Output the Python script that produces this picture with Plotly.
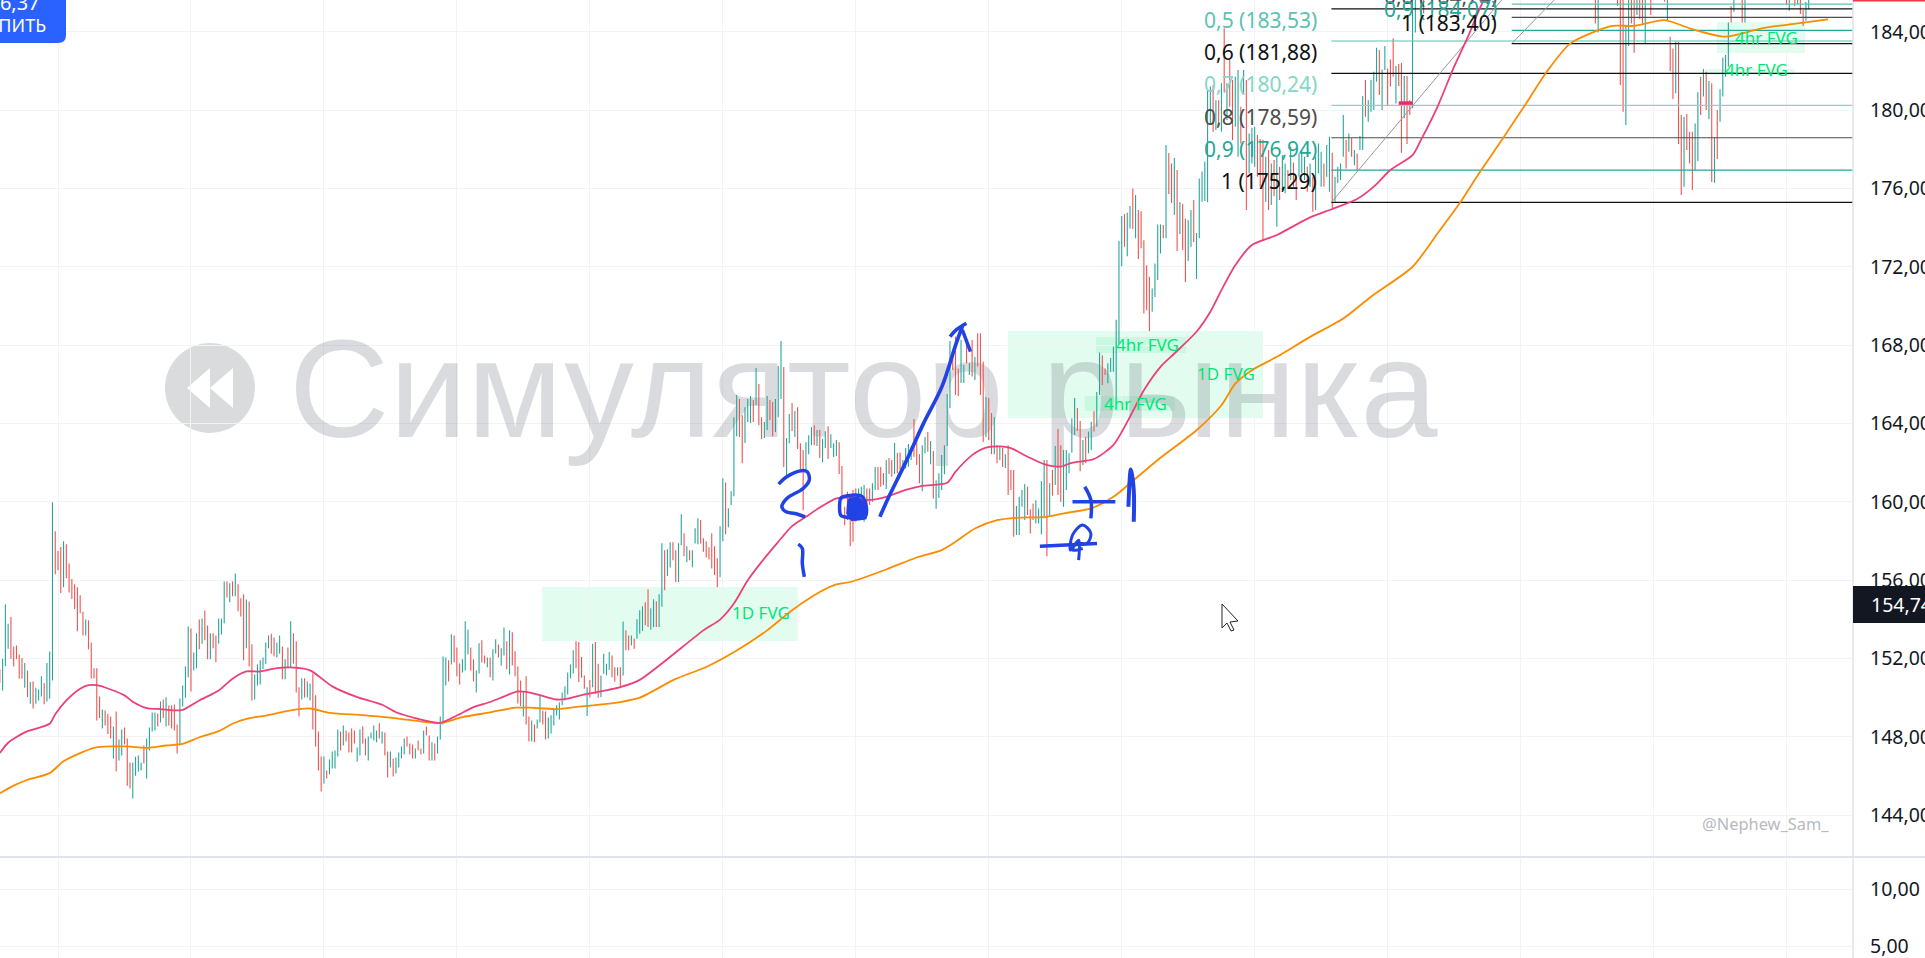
import plotly.graph_objects as go

W, H = 1925, 958
PLOT_R = 1853
PANE_B = 857

N = None
bar_dir = (
    "RGGGRRRRRG" "RGRGGGRGGG" "RRRGRRRRRR" "RGRRRRRGRR" "RGRGGRRRGG"
    "GGRGGGGRGR" "GRRRRGGGGR" "GGRGRRGRRG" "GGRGRGRRRG" "RRGGGGGGRR"
    "GGRGRGRRRG" "RGGRRRRGRG" "GGGRGRRRRG" "GRRGGGGRGR" "RGRGGGGRRR"
    "GRRGRRGRGG" "GGRGRRRGGG" "RRGGRRGRGG" "RGGRGRRRRG" "RRGRGGRRGG"
    "GGGGGGGGRR" "RRGRGRRGGG" "GRRGRGRRGR" "GGGRRGGRGG" "RGGRRGGRGR"
    "GGGRRRRRRR" "GGRGGGGRRG" "GGRGRRGGRR" "GGGRGGRGRR" "RGGGRGRGGR"
    "GGGRRRRRRR" "GGGRRGGRRR" "GRRGRRGGGG" "RRRGGRGRGG" "GGGGRRRGGR"
    "GRGRRRGRRG" "RGRGRRRGGG" "GRRRGGGGRG" "RGRRGGGGGR" "RGRGGRGGRR"
    "GGGGGGRGGR" "GRRRRRGGGG" "RGRRGRGRRG" "GRGGGGGGRG" "RGRGRRGGRG"
    "RGGGRRRGRG" "RGRGGRGRRG" "GGRGRGGGRG" "GRGGGGRGRG" "RGGRGGGGRG"
    "GRRRGRRGRR" "GG.GR"
    + "." * 61
    + "RG" + "." * 6 + "RRRGGRRGRRG.R" + "...." + "RG"
    + "RRGRRGRRRGGRGRGRGRGGGGRGGG" [:24]
    + ".." + "RG" + "." * 14 + "RG.RGRRGG"
)

bar_high = [
    151.44,151.98,154.76,153.77,154.11,152.61,152.66,152.2,152.0,151.76,
    151.38,150.79,150.82,150.5,150.41,151.08,150.74,151.76,152.35,159.97,
    158.49,157.48,157.69,157.98,157.83,156.85,156.05,155.78,155.63,155.22,
    154.38,153.99,153.94,152.81,151.5,151.5,150.05,149.39,149.34,149.17,
    149.03,148.52,149.29,147.85,148.37,148.47,147.91,146.68,146.68,146.98,
    147.04,146.68,147.55,147.91,148.47,149.24,149.24,149.19,149.8,149.9,
    150.02,149.59,149.59,149.64,148.62,149.95,150.62,151.59,153.63,153.53,
    152.3,153.28,153.99,154.04,154.45,153.68,153.28,153.28,153.17,154.04,
    154.04,155.93,155.93,155.83,155.93,156.34,155.78,155.07,155.27,155.01,
    154.91,152.72,151.18,151.69,151.9,152.05,152.81,153.17,153.26,153.07,
    152.81,153.17,152.61,151.95,152.56,153.89,153.28,152.87,150.52,150.98,
    150.98,150.82,150.72,151.23,150.11,148.27,146.99,146.99,146.27,146.84,
    147.24,147.3,148.37,148.27,148.57,148.32,148.21,148.42,148.32,147.45,
    148.37,148.52,147.91,148.01,148.21,148.57,148.32,148.68,148.27,148.21,
    147.24,147.24,146.89,146.94,147.19,147.5,147.91,148.01,147.65,147.6,
    147.4,147.81,147.4,148.32,148.52,148.06,147.71,147.65,148.01,149.03,
    152.1,152.05,151.9,153.23,153.17,152.56,151.74,151.95,153.89,153.48,
    152.56,151.95,151.38,152.77,152.92,152.15,152.05,152.05,152.46,152.97,
    152.71,152.51,153.58,152.87,153.43,153.33,152.36,151.59,150.87,150.31,
    151.08,149.03,148.83,148.62,148.88,150.11,149.34,149.29,148.98,149.09,
    149.39,149.6,149.75,150.26,150.57,151.28,151.69,152.41,152.87,152.84,
    152.07,151.13,150.53,150.9,152.75,152.84,151.73,151.13,152.24,151.73,
    152.32,152.15,151.55,151.55,151.55,153.88,153.43,153.17,153.17,153.0,
    154.0,154.46,154.66,154.87,155.53,154.56,155.02,154.92,155.27,157.88,
    157.52,157.57,157.93,157.93,157.52,157.88,159.36,158.39,157.73,157.52,
    157.52,158.65,159.16,159.06,158.14,157.98,157.68,158.39,157.73,157.11,
    158.75,161.2,160.98,159.67,160.54,164.32,165.45,165.24,164.42,164.83,
    165.24,165.4,165.19,166.83,166.01,164.32,164.07,165.4,165.19,165.09,
    165.24,166.93,168.21,166.88,163.25,164.48,165.04,164.63,164.83,162.99,
    162.64,163.04,163.39,163.81,163.91,163.66,163.66,163.2,163.6,163.86,
    163.45,162.99,163.15,163.04,161.82,159.74,160.51,159.83,160.6,160.68,
    160.68,160.77,160.85,160.68,160.68,160.94,161.77,161.77,161.77,161.46,
    162.13,162.23,162.13,163.0,162.49,162.52,162.13,162.74,162.95,162.81,
    164.22,163.15,162.43,162.89,163.3,163.56,163.1,162.59,161.1,161.46,
    162.38,162.88,165.5,168.21,167.58,168.43,166.81,168.26,166.98,168.26,
    167.07,168.26,167.39,168.6,168.6,167.15,165.35,165.3,164.53,164.33,
    162.89,162.84,162.74,162.43,162.89,161.62,161.62,159.78,160.25,160.6,
    160.9,160.77,159.62,159.91,160.08,159.66,161.05,162.13,162.13,160.94,
    161.62,162.84,163.71,162.89,162.64,162.64,162.47,164.26,165.3,164.79,
    164.12,163.15,163.32,163.58,164.09,164.62,165.6,167.62,167.48,166.81,
    167.07,167.34,167.92,169.29,173.31,174.59,174.69,174.76,175.1,176.0,
    175.66,174.9,174.84,173.36,172.08,171.49,170.89,172.17,174.16,174.16,
    174.13,178.22,177.81,177.28,177.55,176.94,175.3,175.2,174.45,174.38,
    174.9,175.41,173.72,176.51,176.87,177.37,181.0,181.2,181.28,180.51,
    180.51,181.37,184.18,181.37,182.56,181.54,181.7,182.05,180.17,182.05,
    181.54,178.81,179.1,179.15,178.73,178.52,178.47,177.62,177.96,177.28,
    177.45,177.62,177.11,177.7,177.28,176.94,178.13,177.33,176.6,177.79,
    177.96,177.62,177.11,177.28,176.6,177.62,178.3,177.87,177.28,178.22,
    178.64,177.82,176.6,177.11,177.28,179.75,178.47,178.81,178.56,177.96,
    177.79,178.68,180.72,181.54,180.51,181.54,181.96,183.19,183.07,182.08,
    183.27,182.13,182.59,183.67,182.25,182.35,182.42,181.74,181.74,180.51,
    186.5,186.5,N,186.5,186.5,
] + [N] * 61 + [
    186.5,186.5,N,N,N,N,N,N,
    186.5,186.5,186.5,184.35,186.5,186.5,186.5,186.5,186.5,186.5,186.5,N,186.5,
    N,N,N,N,186.5,186.5,
    183.75,183.15,183.5,183.5,179.75,179.66,179.8,178.9,178.9,179.32,180.91,181.7,
    182.1,181.96,181.49,181.37,178.61,180.0,181.07,182.69,182.81,184.48,185.32,186.5,
    N,N,186.5,186.5,
] + [N] * 14 + [186.5,186.5,N,186.5,186.5,186.5,185.11,185.52,186.5]

bar_low = [
    150.76,150.36,151.61,152.49,151.98,151.59,151.95,150.96,150.96,150.5,
    150.02,149.68,149.44,149.68,149.85,150.05,149.65,149.8,149.94,150.87,
    156.29,156.5,155.34,155.63,156.09,155.37,155.03,154.52,153.38,154.3,
    153.17,153.17,152.46,150.97,150.97,148.83,148.96,148.42,148.57,148.14,
    147.91,146.89,146.22,146.78,147.04,147.6,145.5,145.35,144.84,146.0,
    146.22,146.27,146.63,145.86,147.3,148.26,148.32,148.52,148.73,148.96,
    148.52,148.57,148.42,148.32,147.14,147.55,149.54,149.99,151.03,150.31,
    151.38,151.49,152.46,152.75,152.92,151.95,151.95,152.51,151.8,152.76,
    153.22,153.79,155.11,154.86,155.17,155.17,154.4,154.14,151.9,152.51,
    151.59,149.85,149.9,150.62,150.67,151.44,151.73,152.51,152.24,152.1,
    152.05,152.24,150.93,150.93,151.5,151.56,151.73,150.26,149.03,149.9,
    150.0,150.0,149.85,148.37,147.5,146.27,145.2,145.61,145.87,146.07,
    146.38,146.38,146.99,147.3,147.55,147.76,147.19,147.19,147.65,146.73,
    147.04,147.65,147.04,146.78,147.91,147.81,147.71,147.91,147.65,147.04,
    145.92,146.43,145.97,146.12,146.43,146.89,147.09,147.5,147.09,146.89,
    146.89,147.3,147.09,147.14,148.06,146.78,146.78,146.78,147.14,147.86,
    148.62,150.62,150.82,151.69,151.79,151.08,150.67,151.28,151.38,152.2,
    151.38,150.82,150.26,151.23,151.79,151.74,151.54,151.03,150.87,152.25,
    152.05,151.64,152.15,151.44,151.18,151.64,151.08,149.7,149.55,149.03,
    148.62,147.76,147.76,147.71,148.42,148.73,148.62,147.86,147.91,148.16,
    148.57,149.08,148.88,149.6,149.85,150.16,150.98,151.23,151.49,150.79,
    151.01,150.45,149.05,150.0,150.53,150.19,149.99,150.02,151.21,151.13,
    151.42,151.04,150.8,151.13,150.53,151.13,152.41,152.41,152.66,152.49,
    153.0,153.26,153.4,153.69,153.6,153.46,153.6,153.6,153.6,154.63,
    155.48,156.2,156.64,157.01,155.9,155.9,157.78,157.22,156.91,157.01,
    156.65,157.87,157.83,157.86,157.44,157.15,157.05,156.59,156.25,155.63,
    156.14,157.98,158.34,158.7,159.82,160.28,163.35,163.3,161.97,163.0,
    164.07,164.02,164.07,164.94,163.91,163.2,163.25,163.66,164.17,163.35,
    163.56,164.32,165.24,161.77,161.31,162.99,163.61,163.3,162.69,161.61,
    159.57,161.61,162.43,162.89,162.89,162.84,162.23,162.02,162.74,162.18,
    162.74,162.28,162.33,161.41,160.08,158.8,159.06,157.73,157.95,158.98,
    159.06,159.57,158.98,159.74,159.83,160.0,160.6,160.6,160.77,160.85,
    160.65,161.41,161.28,161.41,161.45,161.62,161.62,161.7,161.79,162.13,
    162.3,161.87,160.94,160.54,162.47,162.55,161.91,160.17,159.64,160.19,
    160.6,161.4,162.84,164.77,166.73,165.45,165.4,166.06,166.06,167.07,
    166.47,166.39,166.22,166.9,165.45,163.05,163.3,163.15,162.43,162.43,
    161.97,162.13,161.77,161.72,160.34,160.6,158.21,158.3,158.3,159.74,
    159.06,159.32,158.38,159.06,158.89,158.89,158.34,159.15,157.22,159.23,
    160.3,160.85,160.34,160.0,159.74,160.6,161.45,162.5,163.41,163.61,
    161.55,161.87,161.96,162.47,162.64,163.58,163.83,165.45,165.96,166.47,
    166.05,166.63,166.64,165.28,168.08,172.03,173.02,172.54,173.96,173.93,
    173.45,172.39,172.94,169.61,169.78,168.71,169.7,170.46,171.32,172.68,
    173.45,173.45,175.71,175.25,174.64,172.8,173.67,172.85,171.22,172.29,
    173.02,173.26,171.37,173.45,175.32,175.36,175.3,179.3,178.9,178.98,
    179.15,178.9,180.89,179.5,180.17,178.47,179.15,177.62,178.3,180.77,
    174.9,176.77,177.28,177.11,176.6,176.09,173.32,175.32,174.9,175.15,
    175.6,174.04,175.41,175.92,175.75,176.0,176.43,176.09,175.41,176.6,
    176.77,176.43,175.83,176.09,174.81,174.9,176.77,176.09,176.09,176.6,
    175.83,174.93,175.32,176.26,176.43,177.62,177.02,177.87,177.62,177.19,
    176.94,177.96,177.96,179.66,179.4,179.92,180.0,181.45,180.77,180.0,
    182.05,180.26,181.2,181.71,180.34,181.23,177.82,179.58,178.27,179.75,
    180.09,183.97,N,184.77,184.94,
] + [N] * 61 + [
    184.43,183.97,N,N,N,N,N,N,
    185.32,181.28,179.92,179.24,183.27,184.43,182.93,184.86,184.65,184.43,183.41,N,184.86,
    N,N,N,N,185.54,184.6,
    181.99,180.57,180.86,178.27,175.66,176.09,177.96,177.28,175.92,176.94,177.4,179.75,
    180.69,180.0,179.54,176.33,176.29,177.5,179.4,180.69,181.71,182.22,184.48,185.03,
    N,N,184.47,184.47,
] + [N] * 14 + [185.37,185.08,N,185.32,185.42,184.91,184.3,184.57,185.15]

ma_fast_x = [0,3,5,10,14,18,20,24,29,32,35,40,45,48,53,58,64,66,72,79,84,89,94,100,105,
             112,120,129,138,143,150,159,165,171,177,183,187,190,195,201,205,209,224,231,
             254,260,265,270,275,281,286,291,296,302,307,313,320,327,333,342,345,351,356,
             361,365,371,377,383,387,395,402,408,413,419,424,432,437,441,446,452,461,473,
             481,490,496,502,510,513,519,525,530,534,537]
ma_fast = [147.17,147.69,147.89,148.28,148.45,148.66,149.14,149.85,150.45,150.63,150.63,150.41,
           150.11,149.78,149.46,149.41,149.34,149.37,149.85,150.36,150.96,151.33,151.33,151.5,151.54,
           151.39,150.57,150.02,149.63,149.25,148.95,148.71,149.08,149.51,149.77,150.11,150.31,150.29,
           150.12,149.9,149.94,150.09,150.53,150.9,
           153.43,153.98,154.8,155.99,156.93,157.95,158.75,159.23,159.7,160.17,160.2,160.08,160.25,
           160.6,160.81,160.97,161.53,162.38,162.76,162.83,162.74,162.3,161.92,161.79,161.99,162.18,
           162.9,164.34,165.69,166.89,167.57,168.68,169.7,170.81,172.08,173.11,173.62,174.52,
           174.95,175.46,176.09,176.94,177.7,178.47,180.17,182.22,183.75,185.11,185.96]

ma_slow_x = [0,5,10,18,23,29,34,40,46,53,60,66,72,79,84,89,96,105,112,119,131,141,149,159,167,
             177,186,191,201,209,214,224,231,244,255,266,277,286,296,302,307,320,331,340,345,
             352,360,367,378,385,394,402,408,418,432,441,446,452,461,473,485,495,510,519,527,
             534,543,551,558,567,582,590,601,610,623,636,649,660]
ma_slow = [145.11,145.5,145.8,146.14,146.75,147.16,147.43,147.5,147.5,147.43,147.55,147.63,147.97,
           148.28,148.66,148.91,149.08,149.34,149.44,149.22,149.1,148.97,148.83,148.69,149.0,
           149.24,149.48,149.48,149.41,149.53,149.6,149.77,149.99,150.95,151.56,152.4,153.43,154.46,
           155.39,155.78,155.9,156.54,157.15,157.53,157.95,158.63,159.06,159.18,159.23,159.43,159.66,
           160.25,160.94,162.13,163.65,164.93,166.03,166.72,167.4,168.42,169.36,170.47,172.0,173.7,
           175.24,176.77,178.64,180.34,181.87,183.41,184.3,184.3,184.6,184.18,183.75,184.18,184.43,184.64]

fib1_levels = [185.17, 183.53, 181.88, 180.24, 178.59, 176.94, 175.29]
fib1_colors = ["#111111", "#5cc2b2", "#111111", "#85d6c7", "#4d4d4d", "#26a69a", "#111111"]
fib1_labels = [None, "0,5 (183,53)", "0,6 (181,88)", "0,7 (180,24)", "0,8 (178,59)", "0,9 (176,94)", "1 (175,29)"]
fib2_levels = [185.41, 184.74, 184.07, 183.40]
fib2_colors = ["#5cc2b2", "#4d4d4d", "#26a69a", "#111111"]
fib2_labels = [None, "0,8 (184,74)", "0,9 (184,07)", "1 (183,40)"]
fib1_start, fib2_start, fib_end = 480.7, 545.8, 669.0
fib1_label_x, fib2_label_x = 476.2, 541.3

price_ticks = [144, 148, 152, 156, 160, 164, 168, 172, 176, 180, 184]
price_labels = ["144,00", "148,00", "152,00", "156,00", "160,00", "164,00", "168,00", "172,00", "176,00", "180,00", "184,00"]
vol_ticks = [5, 10]
vol_labels = ["5,00", "10,00"]
time_grid = [21, 69, 117, 165, 213, 261, 309, 357, 405, 453, 501, 549, 597, 645]

fvg_zones = [(195.7, 288.1, 152.89, 155.64), (363.9, 456.0, 164.28, 168.72),
             (395.7, 428.2, 167.6, 168.41), (391.7, 424.2, 164.63, 165.4),
             (619.9, 651.6, 182.92, 184.5), (615.5, 648.0, 181.79, 182.1)]
fvg_text = ["1D FVG", "1D FVG", "4hr FVG", "4hr FVG", "4hr FVG", "4hr FVG"]
fvg_text_x = [274.9, 442.8, 414.3, 409.9, 637.9, 634.1]
fvg_text_y = [154.32, 166.57, 168.05, 165.04, 183.73, 182.1]


def ix(zx):
    return 231.05 + zx * 0.14735


def pr(zy):
    return 170.307 - zy * 0.01704


stroke_two = [(340,552),(360,530),(395,512),(410,515),(415,540),(400,565),(360,595),(348,620),(358,635),(380,640),(405,650)]
stroke_one = [(388,732),(398,745),(398,790),(403,830)]
stroke_box = [(498,590),(545,590),(552,650),(500,650),(492,645),(492,595),(498,590)]
stroke_blob = [(512,597),(535,592),(550,610),(553,655),(520,660),(508,640),(510,610),(512,597)]
stroke_arrow = [(588,650),(610,590),(650,490),(695,370),(740,260),(775,130),(790,80)]
stroke_head1 = [(760,110),(775,90),(800,70)]
stroke_head2 = [(790,90),(810,155)]
stroke_plus_h = [(1060,605),(1165,605)]
stroke_plus_v = [(1090,560),(1105,600),(1105,655)]
stroke_bar = [(1197,620),(1203,508),(1210,570),(1210,665)]
stroke_base = [(980,738),(1120,730)]
stroke_loop = [(1075,780),(1075,720),(1055,750),(1060,705),(1085,675),(1105,700),(1095,730),(1070,730),(1060,750),(1085,745)]

fig = go.Figure()

fig.add_trace(go.Scatter(
    x=[311.7], y=[165.1], mode="text", text=["Симулятор рынка"],
    textposition="middle center",
    textfont=dict(family="Liberation Sans", size=139, color="rgba(120,123,134,0.27)"),
    hoverinfo="skip", showlegend=False))

for code, colour in (("G", "#26a69a"), ("R", "#ef5350")):
    xs, ys = [], []
    for i, (d, h, l) in enumerate(zip(bar_dir, bar_high, bar_low)):
        if d == code and h is not None:
            xs += [i, i, None]
            ys += [h, l, None]
    fig.add_trace(go.Scatter(x=xs, y=ys, mode="lines", line=dict(color=colour, width=1.1),
                             hoverinfo="skip", showlegend=False))

for lvl, col in zip(fib1_levels, fib1_colors):
    fig.add_trace(go.Scatter(x=[fib1_start, fib_end], y=[lvl, lvl], mode="lines",
                             line=dict(color=col, width=1.2), hoverinfo="skip", showlegend=False))
for lvl, col in zip(fib2_levels, fib2_colors):
    fig.add_trace(go.Scatter(x=[fib2_start, fib_end], y=[lvl, lvl], mode="lines",
                             line=dict(color=col, width=1.2), hoverinfo="skip", showlegend=False))
for xs, ys in (([480.7, 544.4], [175.29, 186.0]), ([545.8, 563.0], [183.40, 185.9])):
    fig.add_trace(go.Scatter(x=xs, y=ys, mode="lines", line=dict(color="#9598a1", width=1),
                             hoverinfo="skip", showlegend=False))

fig.add_trace(go.Scatter(x=[505, 510], y=[180.36, 180.36], mode="lines",
                         line=dict(color="#ec2a6a", width=3.5), hoverinfo="skip", showlegend=False))
fig.add_trace(go.Scatter(x=ma_slow_x, y=ma_slow, mode="lines",
                         line=dict(color="#fb8c00", width=1.8, shape="spline", smoothing=0.7),
                         hoverinfo="skip", showlegend=False))
fig.add_trace(go.Scatter(x=ma_fast_x, y=ma_fast, mode="lines",
                         line=dict(color="#ec407a", width=1.8, shape="spline", smoothing=0.7),
                         hoverinfo="skip", showlegend=False))

BLUE = "#2143e6"
for stroke, width in ((stroke_two, 3.5), (stroke_one, 3.5), (stroke_box, 3.5), (stroke_arrow, 3.7),
                      (stroke_head1, 3.7), (stroke_head2, 3.5), (stroke_plus_h, 3.5), (stroke_plus_v, 3.5),
                      (stroke_bar, 4), (stroke_base, 3.5), (stroke_loop, 3)):
    fig.add_trace(go.Scatter(x=[ix(p[0]) for p in stroke], y=[pr(p[1]) for p in stroke], mode="lines",
                             line=dict(color=BLUE, width=width, shape="spline"),
                             hoverinfo="skip", showlegend=False))
fig.add_trace(go.Scatter(x=[ix(p[0]) for p in stroke_blob], y=[pr(p[1]) for p in stroke_blob],
                         mode="lines", fill="toself", fillcolor=BLUE, line=dict(color=BLUE, width=2),
                         hoverinfo="skip", showlegend=False))

fig.add_trace(go.Scatter(x=[time_grid[0]], y=[None], xaxis="x2", yaxis="y2", mode="lines",
                         hoverinfo="skip", showlegend=False))


def px(x):
    return x / W


def py(y):
    return 1 - y / H


shapes = []
for x0, x1, y0, y1 in fvg_zones:
    shapes.append(dict(type="rect", xref="x", yref="y", x0=x0, x1=x1, y0=y0, y1=y1,
                       fillcolor="rgba(0,230,118,0.11)", line_width=0, layer="below"))
# watermark roundel
shapes.append(dict(type="circle", xref="paper", yref="paper", x0=px(165), x1=px(255), y0=py(433), y1=py(343),
                   fillcolor="#dadbdd", line_width=0, layer="below"))


def poly(points, **kw):
    path = "M " + " L ".join(f"{px(a):.5f},{py(b):.5f}" for a, b in points) + " Z"
    return dict(type="path", xref="paper", yref="paper", path=path, **kw)


shapes.append(poly([(187, 388), (210, 368), (210, 408)], fillcolor="white", line_width=0, layer="below"))
shapes.append(poly([(210, 388), (233, 368), (233, 408)], fillcolor="white", line_width=0, layer="below"))
# pane furniture
shapes.append(dict(type="line", xref="paper", yref="paper", x0=px(PLOT_R), x1=px(PLOT_R), y0=0, y1=1,
                   line=dict(color="#e0e3eb", width=1.5), layer="above"))
shapes.append(dict(type="line", xref="paper", yref="paper", x0=0, x1=1, y0=py(PANE_B), y1=py(PANE_B),
                   line=dict(color="#e0e3eb", width=2), layer="above"))
shapes.append(dict(type="rect", xref="paper", yref="paper", x0=px(PLOT_R), x1=1, y0=py(623), y1=py(586),
                   fillcolor="#131722", line_width=0, layer="above"))
shapes.append(dict(type="rect", xref="paper", yref="paper", x0=px(PLOT_R), x1=1, y0=py(1.5), y1=1,
                   fillcolor="#f23645", line_width=0, layer="above"))
# buy button
shapes.append(dict(type="path", xref="paper", yref="paper", layer="above", line_width=0, fillcolor="#2962ff",
                   path=f"M 0,1 L {px(66):.5f},1 L {px(66):.5f},{py(35):.5f} Q {px(66):.5f},{py(43):.5f} "
                        f"{px(58):.5f},{py(43):.5f} L 0,{py(43):.5f} Z"))
# mouse pointer
shapes.append(poly([(1222, 604), (1222, 628), (1227, 623), (1231, 631), (1234, 630), (1230, 622), (1238, 621)],
                   fillcolor="white", line=dict(color="#222222", width=1), layer="above"))

annots = []
FONT = "Noto Sans"
for lvl, col, lab in zip(fib1_levels, fib1_colors, fib1_labels):
    if lab:
        annots.append(dict(x=fib1_label_x, y=lvl, xref="x", yref="y", text=lab, showarrow=False, xanchor="right",
                           yanchor="middle", yshift=21, font=dict(family=FONT, size=21, color=col)))
for lvl, col, lab in zip(fib2_levels, fib2_colors, fib2_labels):
    if lab:
        annots.append(dict(x=fib2_label_x, y=lvl, xref="x", yref="y", text=lab, showarrow=False, xanchor="right",
                           yanchor="middle", yshift=21, font=dict(family=FONT, size=21, color=col)))
for tx, ty, t in zip(fvg_text_x, fvg_text_y, fvg_text):
    annots.append(dict(x=tx, y=ty, xref="x", yref="y", text=t, showarrow=False, xanchor="center", yanchor="middle",
                       font=dict(family=FONT, size=17, color="#00e676")))
annots.append(dict(x=px(1700), y=py(823), xref="paper", yref="paper", text="@Nephew_Sam_", showarrow=False,
                   xanchor="left", yanchor="middle", font=dict(family=FONT, size=16.4, color="#b7b9bf")))
annots.append(dict(x=px(1869), y=py(604.5), xref="paper", yref="paper", text="154,74", showarrow=False,
                   xanchor="left", yanchor="middle", font=dict(family=FONT, size=19.5, color="white")))
annots.append(dict(x=px(42), y=py(3), xref="paper", yref="paper", text="186,37", showarrow=False,
                   xanchor="right", yanchor="middle", font=dict(family=FONT, size=20, color="white")))
annots.append(dict(x=px(48), y=py(25), xref="paper", yref="paper", text="КУПИТЬ", showarrow=False,
                   xanchor="right", yanchor="middle", font=dict(family=FONT, size=18, color="white")))

GRID = "#f1f3f6"
xaxis_common = dict(range=[0.06, 669.0], domain=[0, PLOT_R / W], tickmode="array", tickvals=time_grid,
                    showticklabels=False, showgrid=True, gridcolor=GRID, gridwidth=1, zeroline=False,
                    ticks="", showline=False, fixedrange=True)
yaxis_common = dict(side="right", showgrid=True, gridcolor=GRID, gridwidth=1, zeroline=False, ticks="",
                    showline=False, tickmode="array", ticklabelstandoff=16, fixedrange=True,
                    ticklabeloverflow="allow",
                    tickfont=dict(family=FONT, size=19.5, color="#131722"))

fig.update_layout(
    width=W, height=H, margin=dict(l=0, r=0, t=0, b=0, pad=0, autoexpand=False), autosize=False,
    plot_bgcolor="white", paper_bgcolor="white", showlegend=False, hovermode=False,
    xaxis=dict(xaxis_common, anchor="y"),
    xaxis2=dict(xaxis_common, anchor="y2"),
    yaxis=dict(yaxis_common, domain=[1 - PANE_B / H, 1], range=[141.855, 185.624], anchor="x",
               tickvals=price_ticks, ticktext=price_labels),
    yaxis2=dict(yaxis_common, domain=[0, 1 - (PANE_B + 1) / H], range=[3.95, 12.72], anchor="x2",
                tickvals=vol_ticks, ticktext=vol_labels),
    shapes=shapes, annotations=annots,
)

fig.write_html("out.html", config=dict(displayModeBar=False),
               post_script="document.body.style.margin='0';document.body.style.overflow='hidden';")
